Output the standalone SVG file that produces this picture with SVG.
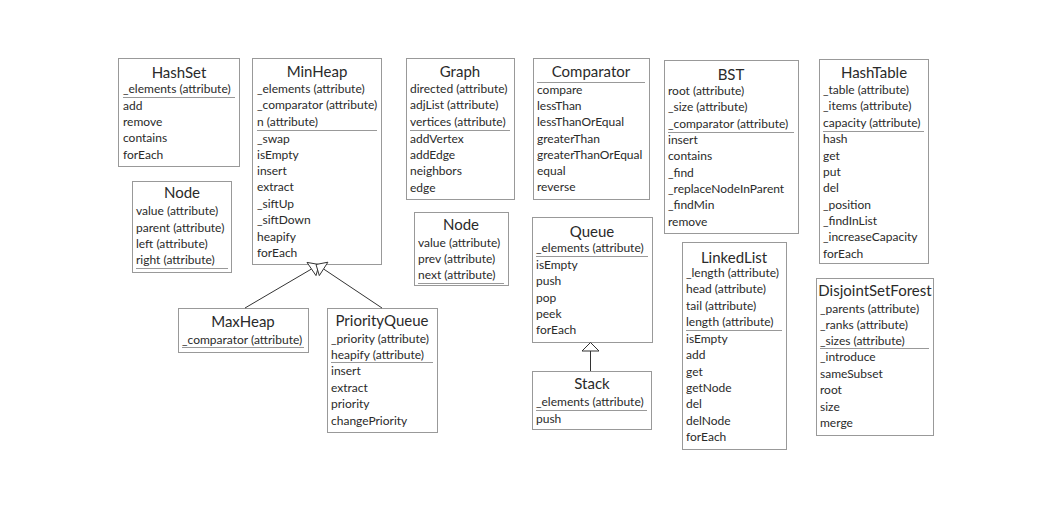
<svg xmlns="http://www.w3.org/2000/svg" width="1051" height="507" viewBox="0 0 1051 507">
<style>
.box{fill:#fff;stroke:#999;stroke-width:1}
.sep{stroke:#999;stroke-width:1.2}
.t{font-family:Lato,"Noto Sans","Liberation Sans",sans-serif;font-size:15px;fill:#2a2a2a;text-anchor:middle}
.i{font-family:Lato,"Noto Sans","Liberation Sans",sans-serif;font-size:12px;fill:#2a2a2a}
.edge{stroke:#333;stroke-width:1;fill:none}
.head{stroke:#333;stroke-width:1;fill:#fff}
</style>
<rect width="1051" height="507" fill="#fff"/>
<g id="HashSet">
<rect class="box" x="118.5" y="58.5" width="121" height="108"/>
<text class="t" x="179" y="78">HashSet</text>
<text class="i" x="123" y="93">_elements (attribute)</text>
<line class="sep" x1="123" y1="97.5" x2="235" y2="97.5"/>
<text class="i" x="123" y="110">add</text>
<text class="i" x="123" y="126">remove</text>
<text class="i" x="123" y="142">contains</text>
<text class="i" x="123" y="159">forEach</text>
</g>
<g id="MinHeap">
<rect class="box" x="252.5" y="58.5" width="129" height="206"/>
<text class="t" x="317" y="77">MinHeap</text>
<text class="i" x="257" y="93">_elements (attribute)</text>
<text class="i" x="257" y="109">_comparator (attribute)</text>
<text class="i" x="257" y="126">n (attribute)</text>
<line class="sep" x1="257" y1="130.5" x2="377" y2="130.5"/>
<text class="i" x="257" y="143">_swap</text>
<text class="i" x="257" y="159">isEmpty</text>
<text class="i" x="257" y="175">insert</text>
<text class="i" x="257" y="191">extract</text>
<text class="i" x="257" y="208">_siftUp</text>
<text class="i" x="257" y="224">_siftDown</text>
<text class="i" x="257" y="241">heapify</text>
<text class="i" x="257" y="257">forEach</text>
</g>
<g id="NodeTree">
<rect class="box" x="132.5" y="181.5" width="99" height="91"/>
<text class="t" x="182" y="198">Node</text>
<text class="i" x="136" y="215">value (attribute)</text>
<text class="i" x="136" y="232">parent (attribute)</text>
<text class="i" x="136" y="248">left (attribute)</text>
<text class="i" x="136" y="264">right (attribute)</text>
<line class="sep" x1="136" y1="268.5" x2="228" y2="268.5"/>
</g>
<g id="Graph">
<rect class="box" x="406.5" y="58.5" width="108" height="141"/>
<text class="t" x="460" y="77">Graph</text>
<text class="i" x="410" y="93">directed (attribute)</text>
<text class="i" x="410" y="109">adjList (attribute)</text>
<text class="i" x="410" y="126">vertices (attribute)</text>
<line class="sep" x1="410" y1="130.5" x2="510" y2="130.5"/>
<text class="i" x="410" y="143">addVertex</text>
<text class="i" x="410" y="159">addEdge</text>
<text class="i" x="410" y="175">neighbors</text>
<text class="i" x="410" y="192">edge</text>
</g>
<g id="Comparator">
<rect class="box" x="533.5" y="58.5" width="116" height="141"/>
<text class="t" x="591" y="77">Comparator</text>
<line class="sep" x1="537" y1="82.5" x2="645" y2="82.5"/>
<text class="i" x="537" y="94">compare</text>
<text class="i" x="537" y="110">lessThan</text>
<text class="i" x="537" y="126">lessThanOrEqual</text>
<text class="i" x="537" y="143">greaterThan</text>
<text class="i" x="537" y="159">greaterThanOrEqual</text>
<text class="i" x="537" y="175">equal</text>
<text class="i" x="537" y="191">reverse</text>
</g>
<g id="NodeList">
<rect class="box" x="414.5" y="212.5" width="94" height="73"/>
<text class="t" x="461" y="230">Node</text>
<text class="i" x="418" y="247">value (attribute)</text>
<text class="i" x="418" y="263">prev (attribute)</text>
<text class="i" x="418" y="279">next (attribute)</text>
<line class="sep" x1="418" y1="283.5" x2="504" y2="283.5"/>
</g>
<g id="Queue">
<rect class="box" x="532.5" y="217.5" width="120" height="125"/>
<text class="t" x="592" y="237">Queue</text>
<text class="i" x="536" y="252">_elements (attribute)</text>
<line class="sep" x1="536" y1="256.5" x2="648" y2="256.5"/>
<text class="i" x="536" y="269">isEmpty</text>
<text class="i" x="536" y="285">push</text>
<text class="i" x="536" y="302">pop</text>
<text class="i" x="536" y="318">peek</text>
<text class="i" x="536" y="334">forEach</text>
</g>
<g id="Stack">
<rect class="box" x="532.5" y="371.5" width="119" height="58"/>
<text class="t" x="592" y="389">Stack</text>
<text class="i" x="536" y="406">_elements (attribute)</text>
<line class="sep" x1="536" y1="410.5" x2="647" y2="410.5"/>
<text class="i" x="536" y="423">push</text>
</g>
<g id="BST">
<rect class="box" x="664.5" y="60.5" width="134" height="173"/>
<text class="t" x="731" y="80">BST</text>
<text class="i" x="668" y="95">root (attribute)</text>
<text class="i" x="668" y="111">_size (attribute)</text>
<text class="i" x="668" y="128">_comparator (attribute)</text>
<line class="sep" x1="668" y1="132.5" x2="794" y2="132.5"/>
<text class="i" x="668" y="144">insert</text>
<text class="i" x="668" y="160">contains</text>
<text class="i" x="668" y="177">_find</text>
<text class="i" x="668" y="193">_replaceNodeInParent</text>
<text class="i" x="668" y="209">_findMin</text>
<text class="i" x="668" y="226">remove</text>
</g>
<g id="HashTable">
<rect class="box" x="819.5" y="59.5" width="109" height="204"/>
<text class="t" x="874" y="78">HashTable</text>
<text class="i" x="823" y="94">_table (attribute)</text>
<text class="i" x="823" y="110">_items (attribute)</text>
<text class="i" x="823" y="127">capacity (attribute)</text>
<line class="sep" x1="823" y1="131.5" x2="924" y2="131.5"/>
<text class="i" x="823" y="143">hash</text>
<text class="i" x="823" y="160">get</text>
<text class="i" x="823" y="176">put</text>
<text class="i" x="823" y="192">del</text>
<text class="i" x="823" y="209">_position</text>
<text class="i" x="823" y="225">_findInList</text>
<text class="i" x="823" y="241">_increaseCapacity</text>
<text class="i" x="823" y="258">forEach</text>
</g>
<g id="LinkedList">
<rect class="box" x="682.5" y="242.5" width="104" height="207"/>
<text class="t" x="734" y="263">LinkedList</text>
<text class="i" x="686" y="277">_length (attribute)</text>
<text class="i" x="686" y="293">head (attribute)</text>
<text class="i" x="686" y="310">tail (attribute)</text>
<text class="i" x="686" y="326">length (attribute)</text>
<line class="sep" x1="686" y1="330.5" x2="782" y2="330.5"/>
<text class="i" x="686" y="343">isEmpty</text>
<text class="i" x="686" y="359">add</text>
<text class="i" x="686" y="376">get</text>
<text class="i" x="686" y="392">getNode</text>
<text class="i" x="686" y="408">del</text>
<text class="i" x="686" y="425">delNode</text>
<text class="i" x="686" y="441">forEach</text>
</g>
<g id="DisjointSetForest">
<rect class="box" x="816.5" y="278.5" width="117" height="157"/>
<text class="t" x="875" y="296">DisjointSetForest</text>
<text class="i" x="820" y="313">_parents (attribute)</text>
<text class="i" x="820" y="329">_ranks (attribute)</text>
<text class="i" x="820" y="345">_sizes (attribute)</text>
<line class="sep" x1="820" y1="348.5" x2="929" y2="348.5"/>
<text class="i" x="820" y="361">_introduce</text>
<text class="i" x="820" y="378">sameSubset</text>
<text class="i" x="820" y="394">root</text>
<text class="i" x="820" y="411">size</text>
<text class="i" x="820" y="427">merge</text>
</g>
<g id="MaxHeap">
<rect class="box" x="178.5" y="308.5" width="130" height="44"/>
<text class="t" x="243" y="327">MaxHeap</text>
<text class="i" x="182" y="344">_comparator (attribute)</text>
<line class="sep" x1="182" y1="347.5" x2="304" y2="347.5"/>
</g>
<g id="PriorityQueue">
<rect class="box" x="327.5" y="308.5" width="110" height="124"/>
<text class="t" x="382" y="326">PriorityQueue</text>
<text class="i" x="331" y="343">_priority (attribute)</text>
<text class="i" x="331" y="359">heapify (attribute)</text>
<line class="sep" x1="331" y1="362.5" x2="433" y2="362.5"/>
<text class="i" x="331" y="375">insert</text>
<text class="i" x="331" y="392">extract</text>
<text class="i" x="331" y="408">priority</text>
<text class="i" x="331" y="425">changePriority</text>
</g>
<g id="connectors">
<line class="edge" x1="245" y1="308" x2="311.5" y2="269"/>
<polygon class="head" points="319,264.5 316,275.6 307,262.4"/>
<line class="edge" x1="382" y1="308" x2="323.6" y2="269"/>
<polygon class="head" points="316,264.5 327.9,262.2 319.3,275.6"/>
<line class="edge" x1="590.5" y1="371" x2="590.5" y2="351"/>
<polygon class="head" points="590.5,342.5 599,351 582,351"/>
</g>
</svg>
